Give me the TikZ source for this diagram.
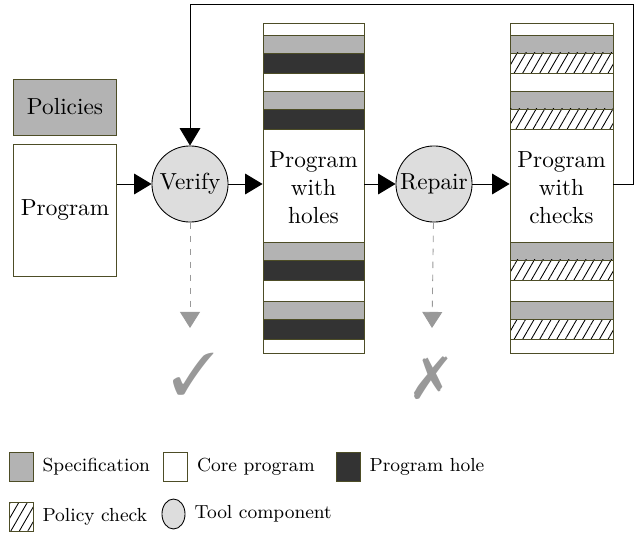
\documentclass[tikz,border=0pt]{standalone}
\usepackage{amssymb}
\usepackage{pifont}
\usepackage{tikz}
\usetikzlibrary{positioning}
\usetikzlibrary{shapes.geometric, arrows.meta}
\usetikzlibrary{patterns.meta}
\definecolor{edgeOlive}{HTML}{4D4D26}
\definecolor{specGray}{HTML}{B3B3B3}
\definecolor{holeDark}{HTML}{333333}
\definecolor{toolGray}{HTML}{DDDDDD}
\definecolor{resultGray}{HTML}{999999}
\tikzstyle{arrow} = [thin,-{Triangle[length=8pt,width=9.5pt]}]
\tikzstyle{result} = [dashed,resultGray,-{Triangle[length=7.4pt,width=9.2pt]}]
\tikzstyle{box} = [draw=edgeOlive,rectangle,align=center,inner sep=0pt]
\tikzstyle{spec} = [draw=edgeOlive,fill=specGray]
\tikzstyle{hole} = [draw=edgeOlive,fill=holeDark]
\tikzstyle{check} = [draw=edgeOlive,pattern={Lines[angle=60,distance=3.4pt,line width=0.4pt]}]
\tikzstyle{tool} = [draw,circle,fill=toolGray,minimum size=35pt,inner sep=0pt]
\tikzstyle{legendBox} = [minimum width=11pt,minimum height=13.3pt,inner sep=0pt]
\tikzstyle{legendText} = [font=\fontsize{8.7}{10.5}\selectfont,inner sep=0pt]

\begin{document}
\begin{tikzpicture}[x=0.46pt,y=-0.46pt,font=\fontsize{10.7}{12.8}\selectfont]
	\useasboundingbox (0,0) rectangle (634,535);
	
	%Nodes
	\node [box,fill=specGray,minimum width=47pt,minimum height=25.8pt] (policies) at (65,107) {Policies};
	\node [box,fill=white,minimum width=47pt,minimum height=60.7pt] (program) at (65,210) {Program};
	\node [tool] (verify) at (190,184) {Verify};
	\node [box,minimum width=46.5pt,minimum height=151.8pt] (holes) at (313.5,188) {};
	\node [tool] (repair) at (434,184) {Repair};
	\node [box,minimum width=47.4pt,minimum height=151.8pt] (checks) at (561.5,188) {};
	
	%Stripes
	\foreach \y in {35,91,242,301}{
		\draw[spec] (263,\y) rectangle (364,\y+18);
		\draw[hole] (263,\y+18) rectangle (364,\y+38);
		\draw[spec] (510,\y) rectangle (613,\y+18);
		\draw[check] (510,\y+18) rectangle (613,\y+38);
	}
	\node [align=center] at (holes) {Program\\with\\holes};
	\node [align=center] at (checks) {Program\\with\\checks};
	
	%Coordinates
	\coordinate (loopR) at (633,4);
	\coordinate (loopL) at (190,4);
	\coordinate (verifyEnd) at (190,328);
	\coordinate (repairEnd) at (432,328);
	
	%Results
	\node [text=resultGray,font=\fontsize{27}{27}\selectfont] (ok) at (194,374) {\ding{51}};
	\node [text=resultGray,font=\fontsize{27}{27}\selectfont] (fail) at (431,378) {\ding{55}};
	
	%Lines
	\draw[arrow] (verify -| program.east) -- (verify);
	\draw[arrow] (verify) -- (verify -| holes.west);
	\draw[arrow] (repair -| holes.east) -- (repair);
	\draw[arrow] (repair) -- (repair -| checks.west);
	\draw[arrow] (verify -| checks.east) -| (loopR) -- (loopL) -- (verify);
	\draw[result] (verify) -- (verifyEnd);
	\draw[result] (repair) -- (repairEnd);
	
	%Legend
	\node [legendBox,spec] (legSpec) at (21,467) {};
	\node [legendText,right=4pt of legSpec] (legSpecText) {Specification};
	\node [legendBox,box,fill=white] (legCore) at (175.5,467) {};
	\node [legendText,right=4pt of legCore] (legCoreText) {Core program};
	\node [legendBox,hole] (legHole) at (348,467) {};
	\node [legendText,right=4pt of legHole] (legHoleText) {Program hole};
	\node [legendBox,check] (legCheck) at (21,517) {};
	\node [legendText,right=4pt of legCheck] (legCheckText) {Policy check};
	\node [draw,ellipse,fill=toolGray,minimum width=10.6pt,minimum height=13.8pt,inner sep=0pt] (legTool) at (173.5,514) {};
	\node [legendText,right=4pt of legTool] (legToolText) {Tool component};
\end{tikzpicture}
\end{document}
